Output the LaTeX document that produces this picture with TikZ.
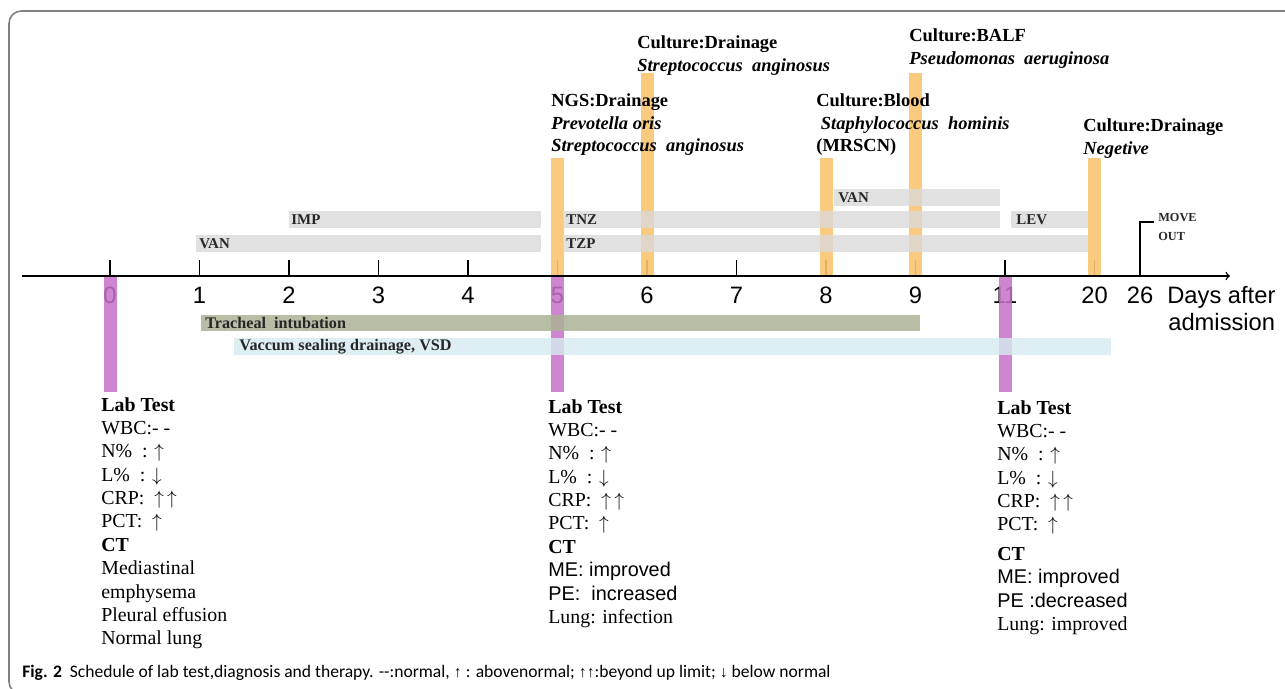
\documentclass[tikz,border=0pt]{standalone}
\usepackage{fontspec}
\setmainfont{Liberation Serif}
\setsansfont{Liberation Sans}
\newfontfamily\captionfont{Carlito}
\usetikzlibrary{positioning}

\definecolor{cultorange}{RGB}{250,196,112}
\definecolor{labpurple}{RGB}{200,112,200}
\definecolor{druggray}{RGB}{218,218,218}
\definecolor{tubeolive}{RGB}{172,178,150}
\definecolor{vsdblue}{RGB}{214,235,241}
\definecolor{framegray}{RGB}{128,128,128}

\newcommand{\up}{$\uparrow$}
\newcommand{\dn}{$\downarrow$}

\begin{document}
\begin{tikzpicture}[x=0.02cm, y=-0.02cm,
    drug/.style={fill=druggray, opacity=0.8},
    druglabel/.style={anchor=west, inner sep=0pt, text=black!85, font=\bfseries\fontsize{8.5}{9}\selectfont},
    culturelabel/.style={anchor=north west, inner sep=0pt, align=left, font=\bfseries\fontsize{10.5}{12.8}\selectfont},
    labtest/.style={anchor=north west, inner sep=0pt, align=left, font=\fontsize{11.3}{13.3}\selectfont},
    daylabel/.style={anchor=base, inner sep=0pt, font=\sffamily\fontsize{13.5}{15}\selectfont}]

\useasboundingbox (0,0) rectangle (1285,689);

% Frame:
\draw[framegray, line width=0.9pt, rounded corners=7pt] (1290,11) -- (9,11) -- (9,694) -- (40,694);

% Ticks and day labels:
\foreach \d [count=\i from 0] in {0,1,2,3,4,5,6,7,8,9,11,20} {
    \draw[line width=0.8pt] (110+89.5*\i,260) -- (110+89.5*\i,276);
    \node[daylabel] (t\d) at (110+89.5*\i,303) {\d};
}
\node[daylabel] (t26) at (1140,303) {26};
\node[daylabel, anchor=base west] (days) at (1167,303) {Days after};
\node[daylabel, anchor=base west] (adm) at (1168,331) {admission};

% Culture samples and lab tests:
\foreach \x/\top in {557.5/158, 647/73, 826/158, 915.5/73, 1094.5/158}
    \fill[cultorange, opacity=0.9] (\x-6.5,\top) rectangle (\x+6.5,276);
\foreach \x in {110, 557.5, 1005}
    \fill[labpurple, opacity=0.85] (\x-6.5,276) rectangle (\x+6.5,392);

% Antibiotics:
\fill[drug] (196,235) rectangle (541,252);
\node[druglabel] (van1) at (199,244) {VAN};
\fill[drug] (289,211) rectangle (541,228);
\node[druglabel] (imp) at (291,220) {IMP};
\fill[drug] (563,211) rectangle (1000,228);
\node[druglabel] (tnz) at (566,220) {TNZ};
\fill[drug] (563,235) rectangle (1088,252);
\node[druglabel] (tzp) at (566,244) {TZP};
\fill[drug] (834,189) rectangle (1000,206);
\node[druglabel] (van2) at (838,198) {VAN};
\fill[drug] (1011,211) rectangle (1088,228);
\node[druglabel] (lev) at (1016,220) {LEV};

% Procedures:
\fill[tubeolive, opacity=0.85] (201,315) rectangle (920,331);
\node[druglabel, font=\bfseries\fontsize{9.2}{10}\selectfont] (trach) at (205,323) {Tracheal\ \ intubation};
\fill[vsdblue, opacity=0.8] (234,338) rectangle (1111,355);
\node[druglabel, font=\bfseries\fontsize{9.2}{10}\selectfont] (vsd) at (239,346.5) {Vaccum sealing drainage, VSD};

% Axes:
\coordinate (axL) at (22,276);
\coordinate (axR) at (1230,276);
\draw[->, line width=0.8pt] (axL) -- (axR);
\coordinate (d26) at (1140,276);
\coordinate (hook) at (1154,222);
\draw[line width=0.7pt] (d26) |- (hook);
\node[druglabel, anchor=north west, align=left, font=\bfseries\fontsize{7}{10.8}\selectfont] (move) at (1158,213) {MOVE\\OUT};

% Culture results:
\node[culturelabel] (ngs) at (551,93.5) {NGS:Drainage\\\textit{Prevotella oris}\\\textit{Streptococcus\ \ anginosus}};
\node[culturelabel] (cult6) at (637,35.5) {Culture:Drainage\\\textit{Streptococcus\ \ anginosus}};
\node[culturelabel] (cult8) at (816,93.5) {Culture:Blood\\\textit{\ Staphylococcus\ \ hominis}\\(MRSCN)};
\node[culturelabel] (cult9) at (909,28.5) {Culture:BALF\\\textit{Pseudomonas\ \ aeruginosa}};
\node[culturelabel] (cult20) at (1083,118.5) {Culture:Drainage\\\textit{Negetive}};

% Lab tests:
\node[labtest] (lab0) at (101,397) {\textbf{Lab Test}\\WBC:- -\\N\%\ \ : \up\\L\%\ \ : \dn\\CRP:\ \ \up\,\up\\PCT:\ \ \up\\\textbf{CT}\\Mediastinal\\emphysema\\Pleural effusion\\Normal lung};
\node[labtest] (lab5) at (548,399) {\textbf{Lab Test}\\WBC:- -\\N\%\ \ : \up\\L\%\ \ : \dn\\CRP:\ \ \up\,\up\\PCT:\ \ \up\\\textbf{CT}\\{\sffamily ME: improved}\\{\sffamily PE:\ \ increased}\\Lung: infection};
\node[labtest] (lab11) at (997,400) {\textbf{Lab Test}\\WBC:- -\\N\%\ \ : \up\\L\%\ \ : \dn\\CRP:\ \ \up\,\up\\PCT:\ \ \up\\[3.5pt]\textbf{CT}\\{\sffamily ME: improved}\\{\sffamily PE :decreased}\\Lung: improved};

% Caption:
\node[anchor=base west, inner sep=0pt, font=\captionfont\fontsize{10}{12}\selectfont] (caption) at (22,677) {\textbf{Fig. 2}\ \ Schedule of lab test,diagnosis and therapy. --:normal, {\sffamily\small↑} : abovenormal; {\sffamily\small↑↑}:beyond up limit; {\sffamily\small↓} below normal};
\end{tikzpicture}
\end{document}
